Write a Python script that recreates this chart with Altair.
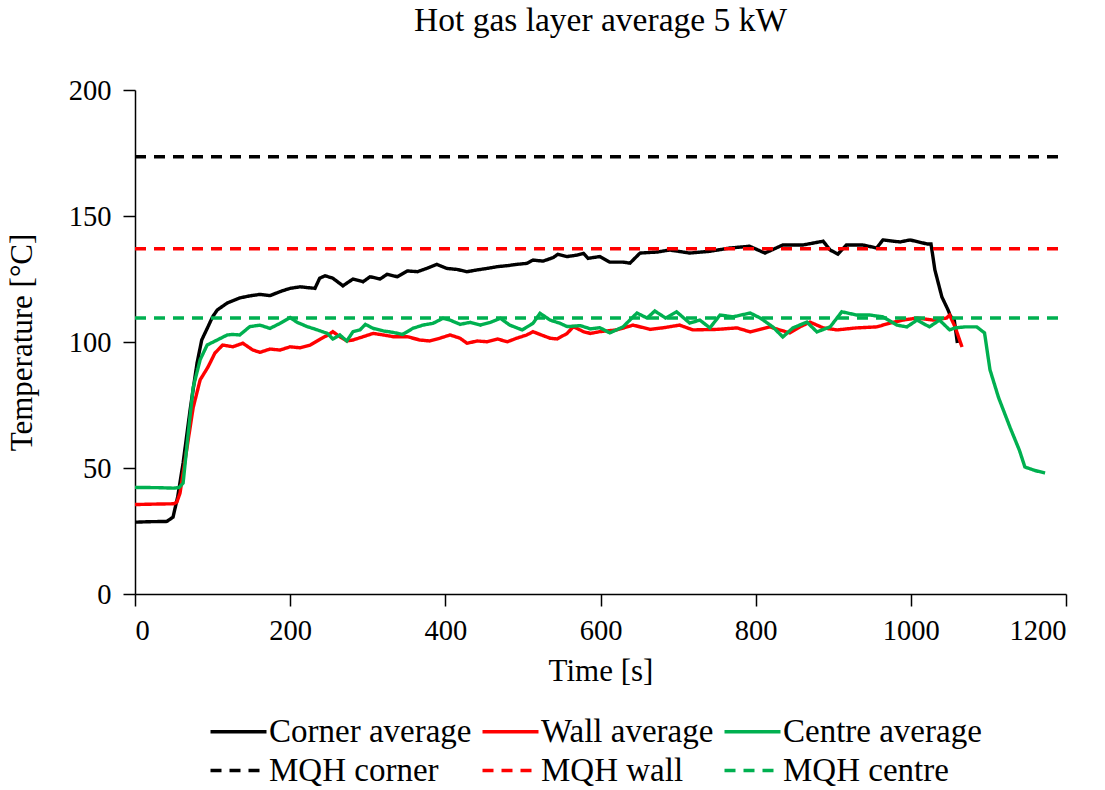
import altair as alt
import pandas as pd

# Measured hot gas layer temperatures (time in s, temperature in degC)
corner_t = [0, 20, 41, 49, 55, 62, 71, 80, 86, 94, 100, 106, 119, 135, 148, 161, 174, 187, 200, 213,
            222, 232, 238, 245, 255, 268, 281, 294, 303, 316, 325, 338, 351, 364, 376, 389, 402, 415, 428, 441,
            454, 467, 480, 492, 505, 513, 526, 539, 545, 557, 570, 578, 584, 599, 612, 629, 638, 651, 673, 689,
            715, 741, 767, 792, 812, 835, 861, 887, 896, 906, 917, 938, 956, 964, 986, 999, 1021, 1026, 1031, 1040,
            1048, 1051, 1056, 1060]
corner_v = [28.5, 28.7, 28.8, 30.5, 38.5, 52, 73, 91.7, 100.8, 106, 110, 112.7, 115.5, 117.5, 118.3, 118.9, 118.4, 120, 121.3, 121.9,
            121.6, 121.3, 125.3, 126.3, 125.3, 122.3, 125, 123.9, 125.9, 125, 126.9, 125.9, 128.2, 127.9, 129.2, 130.8, 129.2, 128.8, 127.9, 128.6,
            129.2, 129.9, 130.3, 130.8, 131.2, 132.5, 132.1, 133.5, 134.8, 133.9, 134.5, 135.2, 133.2, 133.9, 131.7, 131.7, 131.3, 135.3, 135.7, 136.5,
            135.3, 136, 137.3, 138, 135.3, 138.5, 138.5, 140, 136.5, 134.9, 138.5, 138.5, 137.3, 140.5, 139.7, 140.5, 138.9, 138.9, 128.6, 117.9,
            112.7, 110.3, 108.7, 99.6]

wall_t = [0, 30, 50, 54, 58, 67, 75, 84, 94, 103, 113, 126, 139, 152, 161, 174, 187, 200, 213, 226,
          239, 249, 255, 264, 273, 281, 294, 307, 320, 333, 351, 367, 380, 393, 406, 419, 428, 441, 454, 467,
          480, 492, 505, 513, 522, 535, 544, 557, 565, 578, 587, 599, 621, 642, 664, 680, 702, 719, 750, 776,
          793, 818, 844, 857, 870, 887, 905, 930, 956, 973, 990, 1008, 1028, 1046, 1050, 1057, 1066]
wall_v = [35.5, 35.7, 35.8, 36.5, 40, 58, 74, 85, 90, 95.6, 98.8, 98.1, 99.5, 96.8, 95.9, 97.2, 96.8, 98.1, 97.7, 98.8,
          101.2, 102.8, 104.1, 102.1, 100.4, 100.8, 102.1, 103.4, 102.8, 102.1, 102.1, 100.8, 100.4, 101.5, 102.8, 101.5, 99.5, 100.4, 100.1, 101.2,
          100.1, 101.5, 102.8, 104.1, 103, 101.5, 101.2, 103.4, 106.1, 104.1, 103.4, 104.1, 104.8, 106.7, 105, 105.6, 106.7, 104.8, 105, 105.6,
          104, 106, 103.6, 106, 107.9, 105.6, 104.8, 105.6, 106, 107.5, 108.7, 109.5, 108.7, 109.5, 110.7, 106, 98]

centre_t = [0, 30, 50, 57, 62, 68, 75, 84, 93, 106, 119, 126, 135, 148, 161, 174, 187, 200, 209, 222,
            235, 248, 255, 264, 273, 281, 290, 297, 307, 320, 333, 345, 358, 371, 384, 397, 406, 419, 432, 445,
            458, 471, 483, 499, 513, 522, 535, 548, 557, 574, 587, 599, 612, 629, 647, 660, 670, 684, 698, 715,
            728, 741, 754, 771, 793, 806, 822, 835, 848, 866, 879, 896, 911, 930, 947, 964, 982, 995, 1008, 1024,
            1037, 1050, 1057, 1070, 1085, 1095, 1102, 1113, 1128, 1140, 1147, 1160, 1173]
centre_v = [42.3, 42.2, 42, 42.3, 44, 62, 82, 93, 98.8, 100.8, 102.8, 103, 102.8, 106.1, 106.7, 105.4, 107.4, 109.7, 107.8, 106.1,
            104.8, 103.4, 101.2, 102.8, 100.4, 104.1, 104.8, 107, 105.4, 104.4, 103.8, 103, 105.4, 106.7, 107.4, 109.4, 108.7, 107, 107.8, 106.7,
            107.8, 109.4, 106.7, 104.8, 107.4, 111.4, 108.7, 107.4, 106.1, 106.5, 105.2, 105.7, 103.6, 106, 111.5, 109.5, 112.3, 109.5, 112, 107.5,
            108.7, 105.6, 110.7, 110, 111.5, 109.5, 106, 102, 105.6, 107.9, 104, 106, 112, 110.7, 110.7, 110, 106.7, 106, 108.7, 106,
            108.7, 104.8, 105.6, 106, 106, 103.6, 89, 78, 66, 57, 50.4, 49, 48]

# MQH correlation predictions (constant levels)
mqh_names = ["MQH corner", "MQH wall", "MQH centre"]
mqh_levels = [173.5, 137.0, 109.5]
mqh_span = [0, 1190]

series_names = ["Corner average", "Wall average", "Centre average",
                "MQH corner", "MQH wall", "MQH centre"]
series_colors = ["#000000", "#ff0000", "#00b050", "#000000", "#ff0000", "#00b050"]
series_dashes = [[1, 0], [1, 0], [1, 0], [11, 8], [11, 8], [11, 8]]

x_ticks = [0, 200, 400, 600, 800, 1000, 1200]
y_ticks = [0, 50, 100, 150, 200]

rows = []
for name, ts, vs in [("Corner average", corner_t, corner_v),
                     ("Wall average", wall_t, wall_v),
                     ("Centre average", centre_t, centre_v)]:
    for t, v in zip(ts, vs):
        rows.append({"time": t, "temp": v, "series": name})
for name, level in zip(mqh_names, mqh_levels):
    for t in mqh_span:
        rows.append({"time": t, "temp": level, "series": name})
df = pd.DataFrame(rows)

FONT = "Liberation Serif"

# wide, flat line-sample glyph on a small nominal size so the legend rows stay compact
legend = alt.Legend(
    title=None, orient="none", legendX=87, legendY=625, columns=3, direction="horizontal",
    symbolType="M-2,0H2", symbolSize=784, symbolStrokeWidth=3.4,
    labelFont=FONT, labelFontSize=33, labelColor="black", labelOffset=14,
    columnPadding=3, rowPadding=5, padding=0, labelLimit=400,
)

chart = alt.Chart(df).mark_line(strokeWidth=3.4).encode(
    x=alt.X("time:Q", scale=alt.Scale(domain=[0, 1200], nice=False),
            axis=alt.Axis(values=x_ticks, format="d", title="Time [s]", labelPadding=10, titlePadding=12)),
    y=alt.Y("temp:Q", scale=alt.Scale(domain=[0, 200], nice=False),
            axis=alt.Axis(values=y_ticks, format="d", title="Temperature [°C]", labelPadding=12, titlePadding=30)),
    color=alt.Color("series:N", scale=alt.Scale(domain=series_names, range=series_colors), legend=legend),
    strokeDash=alt.StrokeDash("series:N", scale=alt.Scale(domain=series_names, range=series_dashes), legend=legend),
    detail="series:N",
).properties(
    width=931, height=504,
    title=alt.TitleParams("Hot gas layer average 5 kW", font=FONT, fontSize=33.5, fontWeight="normal",
                          color="black", anchor="middle", offset=38),
    padding={"left": 135, "top": 90, "right": 39, "bottom": 196},
    autosize=alt.AutoSizeParams(type="none"),
).configure_view(stroke=None).configure_axis(
    grid=False, domainColor="black", domainWidth=1.5, tickColor="black", tickWidth=1.5, tickSize=12,
    labelFont=FONT, labelFontSize=28.5, labelColor="black",
    titleFont=FONT, titleFontSize=31, titleFontWeight="normal", titleColor="black",
)

chart.save("out.html", embed_options={"renderer": "svg", "actions": False})
